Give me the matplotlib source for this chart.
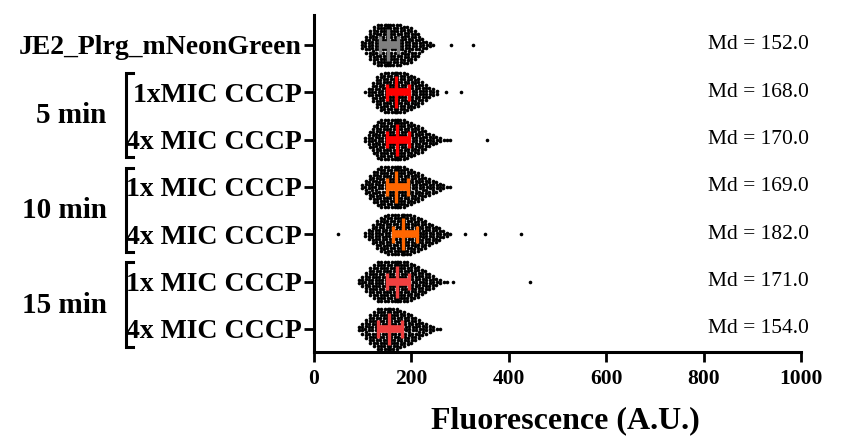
import matplotlib
matplotlib.use("Agg")
import matplotlib.pyplot as plt
import matplotlib.transforms as mtransforms
import numpy as np

plt.rcParams['font.family'] = ['Liberation Serif', 'DejaVu Serif']

# ---- data ----
row_labels = ["JE2_Plrg_mNeonGreen", "1xMIC CCCP", "4x MIC CCCP",
              "1x MIC CCCP", "4x MIC CCCP", "1x MIC CCCP", "4x MIC CCCP"]
group_labels = ["5 min", "10 min", "15 min"]
medians = [152.0, 168.0, 170.0, 169.0, 182.0, 171.0, 154.0]
q1 = [135, 150, 150, 150, 162, 150, 131]
q3 = [172, 195, 195, 193, 211, 195, 181]
bar_colors = ["#808080", "#ff0000", "#ff0000", "#ff6600", "#ff6600", "#f04040", "#f04040"]

# fluorescence bins (A.U.) and number of cells per bin
bins = [84, 91, 98, 105, 112, 119, 126, 133, 140, 147, 154, 161, 168, 175, 182,
        189, 196, 203, 210, 217, 224, 231, 238, 245, 252, 259, 266, 273, 280]
counts_je2 = [0, 0, 3, 6, 10, 13, 14, 14, 14, 14, 14, 14, 14, 14, 14,
              13, 13, 12, 10, 8, 5, 3, 2, 1, 0, 0, 0, 0, 0]
counts_5_1x = [0, 0, 0, 1, 3, 7, 11, 13, 14, 14, 14, 14, 14, 14, 14,
               14, 13, 12, 11, 10, 8, 6, 4, 3, 2, 0, 0, 0, 0]
counts_5_4x = [0, 0, 0, 2, 6, 10, 13, 14, 14, 14, 14, 14, 14, 14, 14,
               14, 13, 12, 11, 10, 9, 7, 5, 4, 3, 2, 1, 1, 1]
counts_10_1x = [0, 0, 2, 5, 8, 11, 13, 14, 14, 14, 14, 14, 14, 14, 14,
                14, 13, 12, 11, 10, 9, 7, 6, 5, 4, 3, 2, 1, 1]
counts_10_4x = [0, 0, 0, 2, 4, 7, 10, 12, 13, 14, 14, 14, 14, 14, 14,
                14, 14, 14, 13, 12, 11, 10, 8, 7, 6, 5, 3, 2, 1]
counts_15_1x = [0, 2, 4, 7, 10, 12, 14, 14, 14, 14, 14, 14, 14, 14, 14,
                14, 14, 13, 12, 11, 9, 8, 6, 5, 3, 2, 1, 1, 0]
counts_15_4x = [0, 2, 4, 7, 10, 12, 14, 14, 14, 14, 14, 14, 14, 14, 13,
                12, 11, 10, 8, 7, 5, 4, 3, 2, 1, 1, 0, 0, 0]
outliers = [[281, 326], [270, 302], [355], [], [49, 310, 351, 425], [285, 444], []]
all_counts = [counts_je2, counts_5_1x, counts_5_4x, counts_10_1x,
              counts_10_4x, counts_15_1x, counts_15_4x]

fig = plt.figure(figsize=(8.41, 4.37), dpi=100)
ax = fig.add_axes([0.3734, 0.1945, 0.5790, 0.7712])

n = len(row_labels)
ypos = [n - 1 - i for i in range(n)]
dy = 0.0634      # vertical step between stacked dots
chev = 0.8       # chevron bend per stacked dot

for i in range(n):
    xs, ys = [], []
    for b, c in zip(bins, all_counts[i]):
        for k in range(c):
            off = k - (c - 1) / 2.0
            xs.append(b - np.sign(b - medians[i]) * chev * abs(off))
            ys.append(ypos[i] + off * dy)
    for v in outliers[i]:
        xs.append(v)
        ys.append(ypos[i])
    ax.plot(xs, ys, 'o', color='black', ms=2.6, mew=0, zorder=2)
    # median with interquartile range
    ax.plot([q1[i], q3[i]], [ypos[i], ypos[i]], color=bar_colors[i], lw=5.5,
            solid_capstyle='butt', zorder=3)
    for q in (q1[i], q3[i]):
        ax.plot([q, q], [ypos[i] - 0.18, ypos[i] + 0.18], color=bar_colors[i],
                lw=2.4, solid_capstyle='butt', zorder=3)
    ax.plot([medians[i], medians[i]], [ypos[i] - 0.34, ypos[i] + 0.34],
            color=bar_colors[i], lw=2.4, solid_capstyle='butt', zorder=3)
    ax.text(912, ypos[i], "Md = %.1f" % medians[i], ha='center', va='center',
            fontsize=15.5)

ax.set_xlim(0, 1000)
ax.set_ylim(-0.486, 6.634)
ax.set_xticks([0, 200, 400, 600, 800, 1000])
ax.set_yticks(ypos)
ax.set_yticklabels(row_labels, fontsize=20, fontweight='bold')
for lab in ax.get_xticklabels():
    lab.set_fontweight('bold')
    lab.set_fontsize(15.5)
ax.tick_params(axis='y', length=7, width=2, pad=2)
ax.tick_params(axis='x', length=7, width=2, pad=5)
ax.spines['top'].set_visible(False)
ax.spines['right'].set_visible(False)
ax.spines['left'].set_linewidth(2.2)
ax.spines['bottom'].set_linewidth(2.2)
ax.set_xlabel("Fluorescence (A.U.)", fontsize=23, fontweight='bold')
ax.xaxis.set_label_coords(0.517, -0.16)

# group brackets on the left
trans = mtransforms.blended_transform_factory(fig.transFigure, ax.transData)
x_in, x_out = 0.1498, 0.158
for g, lab in enumerate(group_labels):
    top = ypos[1 + 2 * g] + 0.41
    bot = ypos[2 + 2 * g] - 0.37
    ax.plot([x_out, x_in, x_in, x_out], [top, top, bot, bot], color='black',
            lw=2.2, transform=trans, clip_on=False, solid_joinstyle='miter')
    ax.text(0.127, (ypos[1 + 2 * g] + ypos[2 + 2 * g]) / 2.0, lab, ha='right',
            va='center', fontsize=21, fontweight='bold', transform=trans)

fig.savefig("out.png", dpi=100)
